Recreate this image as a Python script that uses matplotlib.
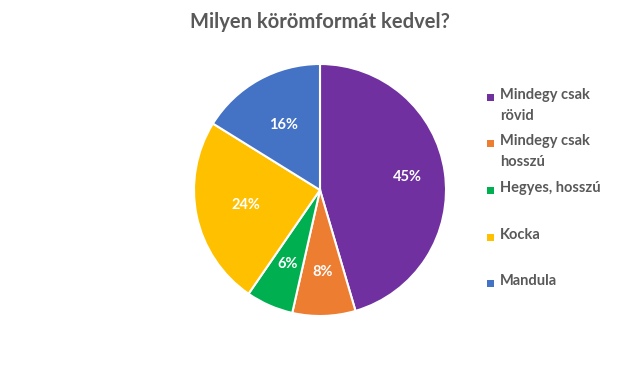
import numpy as np
import matplotlib.pyplot as plt
from matplotlib.patches import Rectangle

plt.rcParams['font.family'] = ['Lato', 'DejaVu Sans']

categories = ["Mindegy csak\nrövid", "Mindegy csak\nhosszú", "Hegyes, hosszú", "Kocka", "Mandula"]
values = [45, 8, 6, 24, 16]
colors = ["#7030A0", "#ED7D31", "#00B050", "#FFC000", "#4472C4"]
label_dist = [0.70, 0.65, 0.64, 0.60, 0.59]

fig = plt.figure(figsize=(6.4, 3.8), dpi=100)
fig.patch.set_facecolor('white')

ax = fig.add_axes([0.5 - 0.197, 1 - 190 / 380 - 0.3316, 0.394, 0.6632])
wedges, texts = ax.pie(values, colors=colors, startangle=90, counterclock=False,
                       wedgeprops=dict(edgecolor='white', linewidth=1.5))
ax.set_aspect('equal')
ax.set_xlim(-1, 1)
ax.set_ylim(-1, 1)

for w, v, d in zip(wedges, values, label_dist):
    ang = np.deg2rad((w.theta1 + w.theta2) / 2)
    ax.text(d * np.cos(ang), d * np.sin(ang), f"{v}%", ha='center', va='center',
            color='white', fontsize=10.5, fontweight='bold')

fig.text(0.5, 1 - 22 / 380, "Milyen körömformát kedvel?", ha='center', va='center',
         fontsize=14.5, fontweight='bold', color='#595959')

ys = [97, 143, 190, 237, 283]
for cat, c, y in zip(categories, colors, ys):
    fig.patches.append(Rectangle((487 / 640, 1 - (y + 4) / 380), 7 / 640, 7 / 380,
                                 transform=fig.transFigure, facecolor=c, edgecolor='none'))
    fig.text(500 / 640, 1 - (y - 9) / 380, cat, ha='left', va='top', fontsize=10.5,
             fontweight='bold', color='#595959', linespacing=1.6)

fig.savefig('out.png', dpi=100)
